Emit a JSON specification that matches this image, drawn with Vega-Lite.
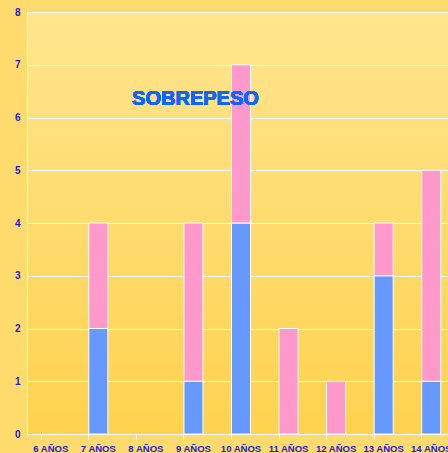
{
  "$schema": "https://vega.github.io/schema/vega-lite/v6.json",
  "autosize": "none",
  "padding": {"left": 27, "top": 12, "right": 0, "bottom": 19},
  "width": 428,
  "height": 422,
  "background": "#FFDA6C",
  "config": {
    "view": {"stroke": null, "fill": {"gradient": "linear", "x1": 0, "y1": 0, "x2": 0, "y2": 1, "stops": [{"offset": 0, "color": "#FFE58E"}, {"offset": 1, "color": "#FFD24F"}]}},
    "axis": {"labelFont": "Liberation Sans", "labelFontWeight": "bold", "labelFontSize": 9, "labelColor": "#1A1ADB", "domainColor": "#FFFFFF", "gridColor": "#FFFFFF", "tickColor": "#FFFFFF", "title": null}
  },
  "data": {"values": [
    {"age": "7 AÑOS", "grp": "A", "o": 1, "v": 2},
    {"age": "7 AÑOS", "grp": "B", "o": 2, "v": 2},
    {"age": "9 AÑOS", "grp": "A", "o": 1, "v": 1},
    {"age": "9 AÑOS", "grp": "B", "o": 2, "v": 3},
    {"age": "10 AÑOS", "grp": "A", "o": 1, "v": 4},
    {"age": "10 AÑOS", "grp": "B", "o": 2, "v": 3},
    {"age": "11 AÑOS", "grp": "B", "o": 2, "v": 2},
    {"age": "12 AÑOS", "grp": "B", "o": 2, "v": 1},
    {"age": "13 AÑOS", "grp": "A", "o": 1, "v": 3},
    {"age": "13 AÑOS", "grp": "B", "o": 2, "v": 1},
    {"age": "14 AÑOS", "grp": "A", "o": 1, "v": 1},
    {"age": "14 AÑOS", "grp": "B", "o": 2, "v": 4}
  ]},
  "layer": [
    {
      "mark": {"type": "bar", "stroke": "#FFFFFF", "strokeWidth": 1},
      "encoding": {
        "x": {"field": "age", "type": "nominal",
              "scale": {"domain": ["6 AÑOS", "7 AÑOS", "8 AÑOS", "9 AÑOS", "10 AÑOS", "11 AÑOS", "12 AÑOS", "13 AÑOS", "14 AÑOS"], "paddingInner": 0.6, "paddingOuter": 0.3},
              "axis": {"labelAngle": 0, "bandPosition": 0, "ticks": true, "tickSize": 5, "tickWidth": 1, "labelPadding": 4, "domain": true, "labelFontSize": 9.5}},
        "y": {"field": "v", "type": "quantitative", "stack": "zero",
              "scale": {"domain": [0, 8], "nice": false},
              "axis": {"values": [0, 1, 2, 3, 4, 5, 6, 7, 8], "ticks": false, "labelPadding": 7, "grid": true, "labelFontSize": 10}},
        "color": {"field": "grp", "type": "nominal", "legend": null,
                  "scale": {"domain": ["A", "B"], "range": ["#6699FF", "#FF99CC"]}},
        "order": {"field": "o"}
      }
    },
    {
      "mark": {"type": "text", "text": "SOBREPESO", "font": "Liberation Sans", "fontWeight": "bold", "fontSize": 20, "fill": "#0F66FF", "stroke": null, "baseline": "alphabetic", "align": "center", "dx": 2},
      "encoding": {
        "x": {"datum": "9 AÑOS", "type": "nominal"},
        "y": {"datum": 6.23, "type": "quantitative"}
      }
    }
  ]
}
